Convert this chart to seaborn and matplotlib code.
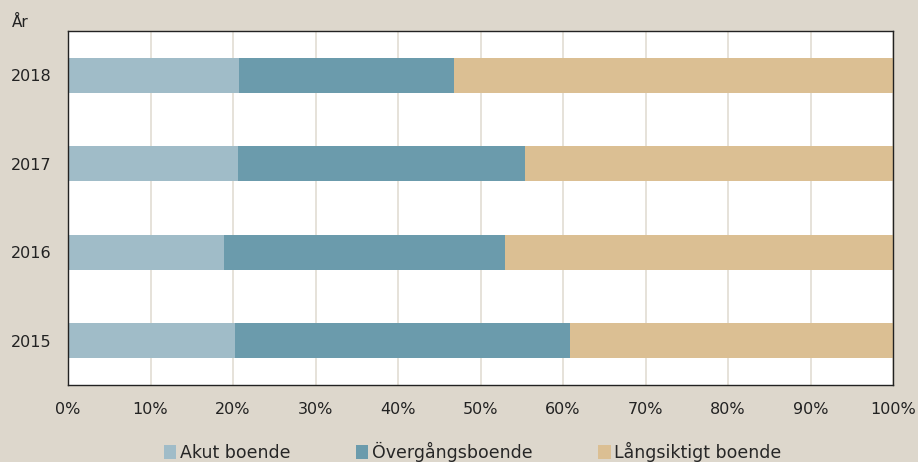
import matplotlib
matplotlib.use("Agg")
import matplotlib.pyplot as plt
from matplotlib.ticker import FixedLocator, PercentFormatter
from matplotlib.patches import Patch
import seaborn as sns
import pandas as pd
import numpy as np

years = ["2018", "2017", "2016", "2015"]
akut = [20.7, 20.6, 18.9, 20.2]
overgang = [26.1, 34.8, 34.1, 40.6]
langsiktigt = [53.2, 44.6, 47.0, 39.2]
series_names = ["Akut boende", "Övergångsboende", "Långsiktigt boende"]
colors = ["#A0BCC8", "#6B9BAC", "#DBBF93"]
bg = "#DDD7CC"

sns.set_theme(style="white")
plt.rcParams["font.family"] = ["DejaVu Sans"]

df = pd.DataFrame({"year": years, "a": akut, "o": overgang, "l": langsiktigt})
df["c1"] = df["a"]
df["c2"] = df["a"] + df["o"]
df["c3"] = df["a"] + df["o"] + df["l"]

fig = plt.figure(figsize=(9.18, 4.62), dpi=100, facecolor=bg)
ax = fig.add_axes([68/918, 1-385/462, 825/918, 354/462])
ax.set_facecolor("white")

for col, c in zip(["c3", "c2", "c1"], colors[::-1]):
    sns.barplot(data=df, x=col, y="year", order=years, color=c, width=0.4,
                orient="h", ax=ax, saturation=1, edgecolor="none")

ax.set_xlim(0, 100)
ax.set_ylim(3.5, -0.5)
ax.set_xticks(np.arange(0, 101, 10))
ax.xaxis.set_major_formatter(PercentFormatter(decimals=0))
ax.grid(axis="x", color="#E2DDD3", linewidth=1.2)
ax.set_axisbelow(True)
ax.set_xlabel("")
ax.set_ylabel("")
for s in ax.spines.values():
    s.set_visible(True)
    s.set_color("#222222")
    s.set_linewidth(1.0)
ax.tick_params(axis="x", length=0, pad=12, labelsize=11.5, labelcolor="#222222")
ax.tick_params(axis="y", which="major", length=0, pad=12, labelsize=11.5, labelcolor="#222222")
ax.yaxis.set_minor_locator(FixedLocator([0.5, 1.5, 2.5]))
ax.tick_params(axis="y", which="minor", length=5, direction="in", color="#222222", width=1)

fig.text(12/918, 1-22/462, "År", fontsize=11, color="#222222", va="center", ha="left")

handles = [Patch(facecolor=c, edgecolor="none") for c in colors]
fig.legend(handles, series_names, loc="center", bbox_to_anchor=(0.515, 1-452/462),
           ncol=3, frameon=False, fontsize=12.5, handlelength=0.7, handleheight=0.8,
           handletextpad=0.2, columnspacing=3.8)

fig.savefig("out.png", dpi=100, facecolor=bg)
